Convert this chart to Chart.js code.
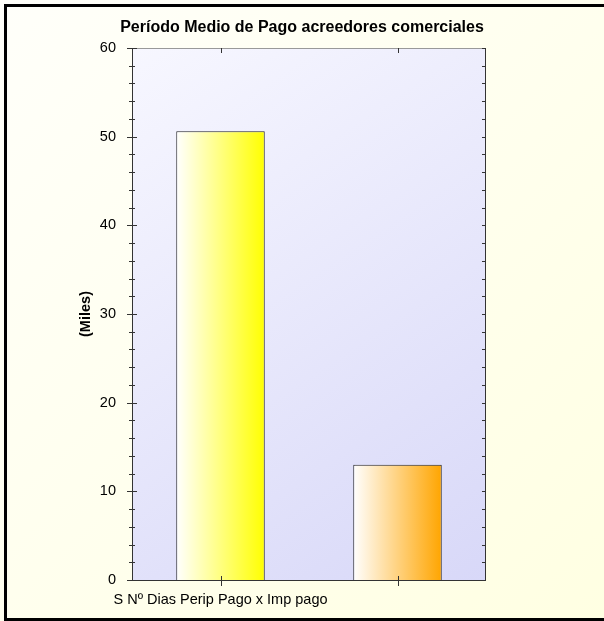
<!DOCTYPE html>
<html>
<head>
<meta charset="utf-8">
<script src="https://cdn.jsdelivr.net/npm/chart.js@4.4.1/dist/chart.umd.min.js"></script>
<style>
  body { margin: 0; background: #fff; }
  canvas { display: block; }
</style>
</head>
<body>
<canvas id="myCanvas" width="604" height="621"></canvas>
<script>
'use strict';

// chart data up here
let categoryLabels = ['S Nº Dias Perip Pago x Imp pago', ''];
let barValues = [50.6, 13.0];
let barColors = ['#ffff00', '#ffa500'];
let yTickValues = [0, 10, 20, 30, 40, 50, 60];
let chartTitle = 'Período Medio de Pago acreedores comerciales';
let yAxisTitle = '(Miles)';

const fontName = '"Liberation Sans", Arial, sans-serif';

// gradient per bar, white on the left to full colour on the right
function barGradient(context) {
  let chart = context.chart;
  let xScale = chart.scales.x;
  if (!xScale || !chart.chartArea) {
    return barColors[context.dataIndex];
  }
  let center = xScale.getPixelForValue(context.dataIndex);
  let half = (xScale.width / categoryLabels.length) * 0.5 / 2;
  let grad = chart.ctx.createLinearGradient(center - half, 0, center + half, 0);
  grad.addColorStop(0, '#ffffff');
  grad.addColorStop(1, barColors[context.dataIndex]);
  return grad;
}

// page background, black frame and the plot area fill
const backgroundPlugin = {
  id: 'backgroundPlugin',
  beforeDraw(chart) {
    let ctx = chart.ctx;
    let w = chart.width;
    let h = chart.height;
    ctx.save();
    let pageGrad = ctx.createLinearGradient(0, 0, w, h);
    pageGrad.addColorStop(0, '#fffffa');
    pageGrad.addColorStop(1, '#ffffe2');
    ctx.fillStyle = pageGrad;
    ctx.fillRect(0, 0, w, h);

    ctx.fillStyle = '#000000';
    ctx.fillRect(4, 4, w - 4, 3);
    ctx.fillRect(4, 4, 3, h - 4);
    ctx.fillRect(4, h - 3, w - 4, 3);

    let area = chart.chartArea;
    let plotGrad = ctx.createLinearGradient(area.left, area.top, area.right, area.bottom);
    plotGrad.addColorStop(0, '#f7f7ff');
    plotGrad.addColorStop(1, '#d8d8f8');
    ctx.fillStyle = plotGrad;
    ctx.fillRect(area.left, area.top, area.right - area.left, area.bottom - area.top);
    ctx.restore();
  },
  afterDraw(chart) {
    let ctx = chart.ctx;
    let area = chart.chartArea;
    let yScale = chart.scales.y;
    let xScale = chart.scales.x;
    ctx.save();
    ctx.lineWidth = 1;
    // plot frame
    ctx.strokeStyle = '#999999';
    ctx.beginPath();
    ctx.moveTo(area.left, area.top + 0.5);
    ctx.lineTo(area.right, area.top + 0.5);
    ctx.stroke();
    ctx.strokeStyle = '#333333';
    ctx.beginPath();
    ctx.moveTo(area.left + 0.5, area.top);
    ctx.lineTo(area.left + 0.5, area.bottom + 0.5);
    ctx.lineTo(area.right - 0.5, area.bottom + 0.5);
    ctx.lineTo(area.right - 0.5, area.top);
    ctx.stroke();

    // y ticks, major every 10 and minor every 2
    for (let v = 0; v <= 60; v += 2) {
      let y = Math.round(yScale.getPixelForValue(v)) + 0.5;
      let major = v % 10 === 0;
      ctx.beginPath();
      ctx.moveTo(area.left - (major ? 5 : 3), y);
      ctx.lineTo(area.left + (major ? 5 : 3), y);
      ctx.moveTo(area.right - 4, y);
      ctx.lineTo(area.right, y);
      ctx.stroke();
    }
    // category ticks top and bottom
    for (let i = 0; i < categoryLabels.length; i++) {
      let x = Math.round(xScale.getPixelForValue(i)) + 0.5;
      ctx.beginPath();
      ctx.moveTo(x, area.top);
      ctx.lineTo(x, area.top + 5);
      ctx.moveTo(x, area.bottom - 4);
      ctx.lineTo(x, area.bottom + 6);
      ctx.stroke();
    }
    ctx.restore();
  }
};

const data = {
  labels: categoryLabels,
  datasets: [{
    data: barValues,
    backgroundColor: barGradient,
    borderColor: '#222222',
    borderWidth: 1,
    barPercentage: 0.5,
    categoryPercentage: 1.0
  }]
};

const config = {
  type: 'bar',
  data: data,
  options: {
    responsive: false,
    animation: false,
    layout: {
      padding: 0
    },
    plugins: {
      legend: { display: false },
      tooltip: { enabled: false },
      title: {
        display: true,
        text: chartTitle,
        color: '#000000',
        font: { family: fontName, size: 16, weight: 'bold' },
        padding: { top: 18, bottom: 10.8 }
      }
    },
    scales: {
      y: {
        min: 0,
        max: 60,
        afterFit: function(scale) {
          scale.width = 132;
        },
        afterBuildTicks: function(scale) {
          scale.ticks = yTickValues.map(v => ({ value: v }));
        },
        ticks: {
          color: '#000000',
          padding: 8,
          font: { family: fontName, size: 14.5 }
        },
        grid: { display: false },
        border: { display: false },
        title: {
          display: true,
          text: yAxisTitle,
          color: '#000000',
          font: { family: fontName, size: 14.5, weight: 'bold' },
          padding: { top: 77, bottom: 0 }
        }
      },
      // empty scale on the right, only there to keep the free space beside the plot
      yRight: {
        position: 'right',
        display: true,
        min: 0,
        max: 60,
        afterFit: function(scale) {
          scale.width = 118;
        },
        ticks: { display: false },
        grid: { display: false },
        border: { display: false }
      },
      x: {
        afterFit: function(scale) {
          scale.height = 41;
        },
        ticks: {
          color: '#000000',
          padding: 3,
          maxRotation: 0,
          autoSkip: false,
          font: { family: fontName, size: 14.5 }
        },
        grid: { display: false },
        border: { display: false }
      }
    }
  },
  plugins: [backgroundPlugin]
};

const chartInfo = document.getElementById('myCanvas');
const myChart = new Chart(chartInfo, config);
</script>
</body>
</html>
